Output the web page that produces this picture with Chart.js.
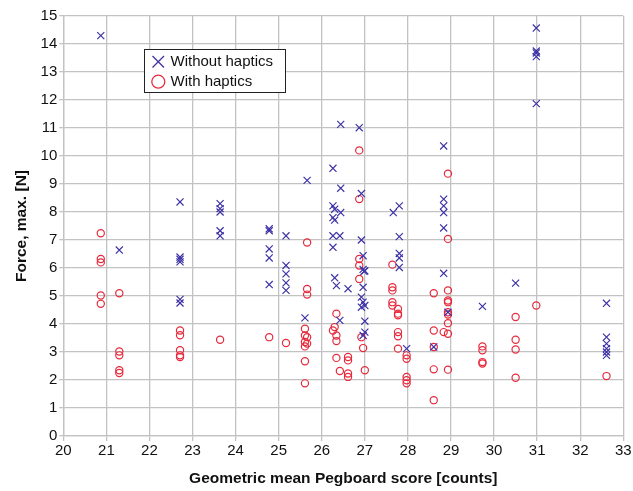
<!DOCTYPE html>
<html>
<head>
<meta charset="utf-8">
<script src="https://cdn.jsdelivr.net/npm/chart.js@4"></script>
<style>
  html, body { margin: 0; padding: 0; background: #fff; }
  #wrap { width: 633px; height: 491px; }
</style>
</head>
<body>
<div id="wrap"><canvas id="chart" width="633" height="491"></canvas></div>
<script>
// Pegboard score vs max force, with / without haptics

const withoutX = [20.87, 21.3, 22.71, 22.71, 22.71, 22.71, 22.71, 22.71,
  23.64, 23.64, 23.64, 23.64, 23.64,
  24.78, 24.78, 24.78, 24.78, 24.78,
  25.17, 25.17, 25.17, 25.17, 25.17, 25.66, 25.61,
  26.44, 26.26, 26.44, 26.26, 26.3, 26.44, 26.26, 26.3, 26.26, 26.42, 26.26,
  26.3, 26.34, 26.61, 26.42,
  26.87, 26.92, 26.92, 26.96, 26.96, 27.0, 26.98,
  26.96, 26.92, 26.96, 26.92, 27.0, 27.0, 27.0, 26.96,
  27.66, 27.8, 27.8, 27.8, 27.8, 27.8, 27.97,
  28.83, 28.83, 28.83, 28.83, 28.83, 28.83, 28.93, 28.6,
  29.73, 30.5, 30.98, 30.98, 30.98, 30.98, 30.98,
  32.61, 32.61, 32.61, 32.61, 32.61, 32.61];
const withoutY = [14.3, 6.64, 8.36, 6.39, 6.31, 6.22, 4.88, 4.75,
  8.3, 8.12, 8.0, 7.33, 7.15,
  7.4, 7.33, 6.68, 6.36, 5.41,
  7.15, 6.09, 5.79, 5.47, 5.2, 9.13, 4.22,
  11.13, 9.56, 8.85, 8.22, 8.1, 7.98, 7.8, 7.71, 7.15, 7.15, 6.74,
  5.65, 5.37, 5.26, 4.13,
  11.01, 8.66, 7.0, 6.44, 5.95, 5.9, 5.88,
  5.31, 4.96, 4.78, 4.6, 4.66, 4.1, 3.71, 3.59,
  7.98, 8.22, 7.12, 6.52, 6.36, 6.02, 3.12,
  10.36, 8.46, 8.22, 7.98, 7.43, 5.81, 4.42, 3.18,
  4.63, 5.46, 14.57, 13.75, 13.68, 13.55, 11.87,
  4.74, 3.53, 3.3, 3.12, 3.0, 2.88];

const withX = [20.87, 20.87, 20.87, 20.87, 20.87,
  21.3, 21.3, 21.3, 21.3, 21.3,
  22.71, 22.71, 22.71, 22.71, 22.71,
  23.64, 24.78, 25.17,
  25.66, 25.66, 25.66, 25.61, 25.61, 25.66, 25.61, 25.66, 25.61, 25.61, 25.61,
  26.34, 26.26, 26.3, 26.34, 26.34, 26.34, 26.42,
  26.61, 26.61, 26.61, 26.61,
  26.87, 26.87, 26.87, 26.87, 26.87, 26.92, 26.96, 27.0,
  27.64, 27.64, 27.64, 27.64, 27.64,
  27.77, 27.77, 27.77, 27.77, 27.77, 27.77,
  27.97, 27.97, 27.97, 27.97, 27.97,
  28.93, 28.93, 28.6, 28.93, 28.93, 28.93, 28.93, 28.93, 28.93,
  28.6, 28.83, 28.93, 28.6, 28.6, 28.93, 28.6,
  29.73, 29.73, 29.73, 29.73,
  30.5, 30.5, 30.5, 30.5, 30.98, 32.61];
const withY = [7.24, 6.32, 6.2, 5.02, 4.72,
  5.1, 3.02, 2.88, 2.35, 2.25,
  3.77, 3.6, 3.06, 2.88, 2.82,
  3.44, 3.53, 3.32,
  6.91, 5.25, 5.05, 3.83, 3.59, 3.53, 3.36, 3.3, 3.2, 2.67, 1.88,
  4.37, 3.77, 3.89, 3.59, 3.39, 2.79, 2.32,
  2.82, 2.7, 2.23, 2.11,
  10.2, 8.46, 6.32, 6.09, 5.61, 3.53, 3.14, 2.35,
  6.12, 5.31, 5.2, 4.78, 4.66,
  4.54, 4.37, 4.31, 3.71, 3.56, 3.12,
  2.88, 2.76, 2.11, 1.99, 1.88,
  9.37, 7.04, 5.1, 5.2, 4.84, 4.78, 4.42, 4.34, 4.03,
  3.77, 3.71, 3.65, 3.18, 2.38, 2.37, 1.28,
  3.2, 3.06, 2.64, 2.59,
  4.25, 3.44, 3.09, 2.08, 4.66, 2.14];

const seriesNames = ["Without haptics", "With haptics"];
const xTicks = [20, 21, 22, 23, 24, 25, 26, 27, 28, 29, 30, 31, 32, 33];
const yTicks = [0, 1, 2, 3, 4, 5, 6, 7, 8, 9, 10, 11, 12, 13, 14, 15];

const BLUE = '#3d33a6';
const RED = '#e62a3c';
const GRID = '#c2c2c2';
const FONT = "'Liberation Sans', Arial, sans-serif";

function pts(xs, ys) {
  return xs.map((x, i) => ({ x: x, y: ys[i] }));
}

// legend drawn inside the plot, like the original
const boxLegend = {
  id: 'boxLegend',
  afterDraw(chart) {
    const ctx = chart.ctx;
    const x0 = 144.5, y0 = 49.5, w = 141, h = 43;
    ctx.save();
    ctx.fillStyle = '#fff';
    ctx.fillRect(x0, y0, w, h);
    ctx.strokeStyle = '#222';
    ctx.lineWidth = 1;
    ctx.strokeRect(x0, y0, w, h);

    // cross
    ctx.strokeStyle = BLUE;
    ctx.lineWidth = 1.3;
    ctx.beginPath();
    ctx.moveTo(152.5, 56); ctx.lineTo(164, 67.5);
    ctx.moveTo(164, 56); ctx.lineTo(152.5, 67.5);
    ctx.stroke();
    // circle
    ctx.strokeStyle = RED;
    ctx.beginPath();
    ctx.arc(158.3, 81.7, 6.5, 0, Math.PI * 2);
    ctx.stroke();

    ctx.fillStyle = '#111';
    ctx.font = '15px ' + FONT;
    ctx.textBaseline = 'middle';
    ctx.fillText(seriesNames[0], 170.5, 62);
    ctx.fillText(seriesNames[1], 170.5, 82);
    ctx.restore();
  }
};

new Chart(document.getElementById('chart'), {
  type: 'scatter',
  data: {
    datasets: [
      {
        label: seriesNames[0],
        data: pts(withoutX, withoutY),
        pointStyle: 'crossRot',
        pointRadius: 5,
        pointBorderWidth: 1.2,
        borderColor: BLUE,
        backgroundColor: BLUE
      },
      {
        label: seriesNames[1],
        data: pts(withX, withY),
        pointStyle: 'circle',
        pointRadius: 3.6,
        pointBorderWidth: 1.2,
        borderColor: RED,
        backgroundColor: 'rgba(0,0,0,0)'
      }
    ]
  },
  options: {
    responsive: false,
    animation: false,
    events: [],
    layout: { padding: { top: 16, right: 9.7, left: 0, bottom: 0 } },
    plugins: {
      legend: { display: false },
      tooltip: { enabled: false }
    },
    scales: {
      x: {
        type: 'linear',
        min: 20,
        max: 33,
        afterBuildTicks(scale) { scale.ticks = xTicks.map(v => ({ value: v })); },
        afterFit(scale) { scale.height = 55; },
        ticks: {
          color: '#111',
          font: { family: FONT, size: 15 },
          padding: 1,
          maxRotation: 0,
          autoSkip: false
        },
        grid: { color: GRID, lineWidth: 1.3, tickLength: 5, tickColor: GRID },
        border: { color: GRID, width: 1.3 },
        title: {
          display: true,
          text: 'Geometric mean Pegboard score [counts]',
          color: '#111',
          font: { family: FONT, size: 15.5, weight: 'bold' },
          padding: { top: 0, bottom: 3 }
        }
      },
      y: {
        type: 'linear',
        min: 0,
        max: 15,
        afterBuildTicks(scale) { scale.ticks = yTicks.map(v => ({ value: v })); },
        afterFit(scale) { scale.width = 63.3; },
        ticks: {
          color: '#111',
          font: { family: FONT, size: 15 },
          padding: 2,
          autoSkip: false
        },
        grid: { color: GRID, lineWidth: 1.3, tickLength: 4, tickColor: GRID },
        border: { color: GRID, width: 1.3 },
        title: {
          display: true,
          text: 'Force, max. [N]',
          color: '#111',
          font: { family: FONT, size: 15.5, weight: 'bold' },
          padding: { top: 12, bottom: 0 }
        }
      }
    }
  },
  plugins: [boxLegend]
});
</script>
</body>
</html>
